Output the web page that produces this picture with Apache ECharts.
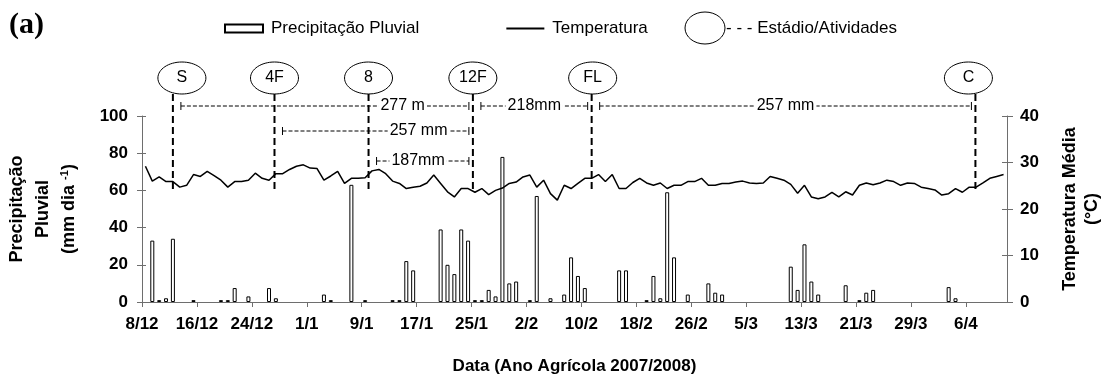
<!DOCTYPE html>
<html><head><meta charset="utf-8">
<script src="https://cdn.jsdelivr.net/npm/echarts@6/dist/echarts.min.js"></script>
<style>html,body{margin:0;padding:0;background:#fff}#c{width:1114px;height:380px}</style>
</head><body><div id="c"></div>
<script>
// ---------------- DATA ----------------
// x axis: day offset from 8/12/2007 (one unit = one day, day i spans [i, i+1])
const tickLabels = ['8/12','16/12','24/12','1/1','9/1','17/1','25/1','2/2','10/2','18/2','26/2','5/3','13/3','21/3','29/3','6/4'];
const daysPerTick = 8;
const totalDays = 126;

// daily rainfall, mm/day (index = day offset)
const precipitation = [
  0,33,1,2,34,0,0,1,0,0,
  0,1,1,7.5,0,3,0,0,7.5,2,
  0,0,0,0,0,0,4,1,0,0,
  63,0,1,0,0,0,1,1,22,17,
  0,0,0,39,20,15,39,33,1,1,
  6.5,3,78,10,11,0,1,57,0,2,
  0,4,24,14,7.5,0,0,0,0,17,
  17,0,0,1,14,2,59,24,0,4,
  0,0,10,5,4,0,0,0,0,0,
  0,0,0,0,19,6.5,31,11,4,0,
  0,0,9,0,1,5,6.5,0,0,0,
  0,0,0,0,0,0,0,8,2,0,
  0,0,0,0,0,0
];

// daily mean temperature, °C
const temperature = [
  29.2,26.0,26.9,25.9,25.9,24.7,25.1,27.4,27.0,28.1,
  27.2,26.2,24.7,25.9,25.9,26.2,27.7,26.6,26.2,27.6,
  27.6,28.5,29.2,29.5,28.8,28.7,26.2,27.1,28.1,25.5,
  26.6,26.6,26.7,28.2,28.5,27.6,26.0,25.5,24.4,24.7,
  24.9,25.6,27.3,25.5,23.7,22.6,24.4,24.4,23.6,24.4,
  23.1,24.0,24.5,25.5,25.8,26.9,27.3,24.7,26.2,23.3,
  21.9,25.1,24.4,25.5,26.6,26.6,27.4,25.9,27.4,24.4,
  24.4,25.7,26.6,25.6,25.1,25.6,24.4,25.1,25.1,25.9,
  25.9,26.6,25.1,25.1,25.5,25.5,25.8,26.0,25.6,25.5,
  25.6,27.0,26.6,26.2,25.3,23.4,25.1,22.6,22.2,22.6,
  23.6,22.6,23.7,23.0,25.1,25.6,25.2,25.6,26.2,25.9,
  25.1,25.6,25.5,24.7,24.4,24.1,23.0,23.3,24.4,23.6,
  24.7,24.7,25.6,26.6,27.0,27.4
];

// crop stages (position on the day axis)
const stageNames = ['S','4F','8','12F','FL','C'];
const stageDays  = [4.5, 19.3, 33.0, 48.2, 65.5, 121.4];

// accumulated rainfall between stages
const intervalFrom  = [0, 3, 4, 1, 2];
const intervalTo    = [3, 4, 5, 3, 3];
const intervalLabel = ['277 m', '218mm', '257 mm', '257 mm', '187mm'];

// ---------------- LAYOUT / STYLE ----------------
const FONT = '"Liberation Sans", Arial, sans-serif';
const intervalRowY = [106, 131, 161];
const intervalRow  = [0, 0, 0, 1, 2];
const intervalTextAt = [0.77, 0.5, 0.5, 0.73, 0.45];
const bubbleShift = [9, 0, 0, 0, 1, -7];
const BUBBLE_Y = 78, STAGE_TOP = 94, STAGE_BOTTOM = 192;

const barData = [];
precipitation.forEach((v, i) => { if (v > 0) barData.push([i + 0.5, v]); });
const lineData = temperature.map((t, i) => [i + 0.5, t]);

const chart = echarts.init(document.getElementById('c'), null, {renderer: 'canvas'});

const axisGray = '#6e6e6e';
const tickLabelStyle = {color: '#000', fontSize: 17, fontWeight: 'bold', fontFamily: FONT};

chart.setOption({
  animation: false,
  backgroundColor: '#fff',
  grid: {left: 140, right: 107, top: 116, bottom: 78},
  legend: {
    left: 224, top: 20, padding: 0, itemWidth: 38, itemHeight: 8, itemGap: 86,
    textStyle: {fontSize: 17, fontFamily: FONT, color: '#000', padding: [0, 0, 0, 3]},
    data: [
      {name: 'Precipitação Pluvial', icon: 'rect'},
      {name: 'Temperatura', itemStyle: {color: 'rgba(0,0,0,0)', borderColor: 'rgba(0,0,0,0)', borderWidth: 0}}
    ]
  },
  xAxis: {
    type: 'value', min: 0, max: totalDays, interval: daysPerTick,
    splitLine: {show: false},
    axisLine: {lineStyle: {color: axisGray, width: 1}},
    axisTick: {show: true, length: 5, lineStyle: {color: axisGray}},
    axisLabel: {
      ...tickLabelStyle, margin: 14, showMaxLabel: false,
      formatter: v => tickLabels[Math.round(v / daysPerTick)] || ''
    },
    name: 'Data (Ano Agrícola 2007/2008)',
    nameLocation: 'middle', nameGap: 56,
    nameTextStyle: {fontSize: 17, fontWeight: 'bold', fontFamily: FONT, color: '#000'}
  },
  yAxis: [
    {
      type: 'value', position: 'left', min: 0, max: 100, interval: 20,
      splitLine: {show: false},
      axisLine: {show: true, lineStyle: {color: axisGray}},
      axisTick: {show: true, length: 5, lineStyle: {color: axisGray}},
      axisLabel: {...tickLabelStyle, margin: 14},
      name: '{t|Precipitação}\n{t|Pluvial}\n{t|(mm dia }{s|-1}{t|)}',
      nameLocation: 'middle', nameGap: 60,
      nameTextStyle: {
        rich: {
          t: {fontSize: 18, fontWeight: 'bold', fontFamily: FONT, color: '#000', lineHeight: 26},
          s: {fontSize: 11, fontWeight: 'bold', fontFamily: FONT, color: '#000', lineHeight: 26, padding: [0, 0, 9, 0]}
        }
      }
    },
    {
      type: 'value', position: 'right', min: 0, max: 40, interval: 10,
      splitLine: {show: false},
      axisLine: {show: true, lineStyle: {color: axisGray}},
      axisTick: {show: true, length: 6, lineStyle: {color: axisGray}},
      axisLabel: {...tickLabelStyle, margin: 13},
      name: '{t|Temperatura Média}\n{t|(°C)}',
      nameLocation: 'middle', nameGap: 52, nameRotate: 90,
      nameTextStyle: {
        rich: {t: {fontSize: 18, fontWeight: 'bold', fontFamily: FONT, color: '#000', lineHeight: 22}}
      }
    },
    { // inner half of the crossing ticks, left
      type: 'value', position: 'left', min: 0, max: 100, interval: 20,
      splitLine: {show: false}, axisLine: {show: false}, axisLabel: {show: false},
      axisTick: {show: true, inside: true, length: 4, lineStyle: {color: axisGray}}
    },
    { // inner half of the crossing ticks, right
      type: 'value', position: 'right', min: 0, max: 40, interval: 10,
      splitLine: {show: false}, axisLine: {show: false}, axisLabel: {show: false},
      axisTick: {show: true, inside: true, length: 5, lineStyle: {color: axisGray}}
    }
  ],
  series: [
    {
      name: 'Precipitação Pluvial', type: 'bar', yAxisIndex: 0, barWidth: 4,
      itemStyle: {color: '#fff', borderColor: '#000', borderWidth: 1},
      data: barData, z: 2
    },
    {
      name: 'Temperatura', type: 'line', yAxisIndex: 1, symbol: 'none', showSymbol: false,
      lineStyle: {color: '#000', width: 1.5}, itemStyle: {color: '#000'},
      data: lineData, z: 3
    }
  ]
});

// ---------------- OVERLAY (stages, intervals, extra legend) ----------------
function overlay() {
  const px = v => chart.convertToPixel({xAxisIndex: 0}, v);
  const els = [];
  els.push({type: 'text', x: 9, y: 10, style: {text: '(a)', font: 'bold 30px "Liberation Serif", "Times New Roman", serif', fill: '#000'}});
  // legend item for stages
  els.push({type: 'ellipse', shape: {cx: 705, cy: 28, rx: 20, ry: 16}, style: {fill: '#fff', stroke: '#000', lineWidth: 1}});
  els.push({type: 'text', x: 726, y: 28, style: {text: '- - - Estádio/Atividades', font: '17px ' + FONT, fill: '#000', align: 'left', verticalAlign: 'middle'}});

  stageNames.forEach((name, k) => {
    const x = px(stageDays[k]);
    const cx = x + bubbleShift[k];
    els.push({type: 'line', z: 10, shape: {x1: x, y1: STAGE_TOP, x2: x, y2: STAGE_BOTTOM},
      style: {stroke: '#000', lineWidth: 2, lineDash: [7, 4]}});
    els.push({type: 'ellipse', z: 11, shape: {cx: cx, cy: BUBBLE_Y, rx: 24, ry: 16},
      style: {fill: '#fff', stroke: '#000', lineWidth: 1}});
    els.push({type: 'text', z: 12, x: cx, y: BUBBLE_Y, style: {text: name, font: '16px ' + FONT, fill: '#000', align: 'center', verticalAlign: 'middle'}});
  });

  intervalLabel.forEach((label, j) => {
    const x1 = px(stageDays[intervalFrom[j]]) + 8;
    const x2 = px(stageDays[intervalTo[j]]) - 4;
    const y = intervalRowY[intervalRow[j]];
    els.push({type: 'line', z: 12, shape: {x1: x1, y1: y, x2: x2, y2: y}, style: {stroke: '#000', lineWidth: 1, lineDash: [4, 2]}});
    els.push({type: 'line', z: 12, shape: {x1: x1, y1: y - 4, x2: x1, y2: y + 4}, style: {stroke: '#000', lineWidth: 1}});
    els.push({type: 'line', z: 12, shape: {x1: x2, y1: y - 4, x2: x2, y2: y + 4}, style: {stroke: '#000', lineWidth: 1}});
    els.push({type: 'text', z: 13, x: x1 + (x2 - x1) * intervalTextAt[j], y: y,
      style: {text: label, font: '16px ' + FONT, fill: '#000', align: 'center', verticalAlign: 'middle', backgroundColor: '#fff', padding: [0, 2]}});
  });
  chart.setOption({graphic: els});
}
overlay();
</script>
</body></html>
